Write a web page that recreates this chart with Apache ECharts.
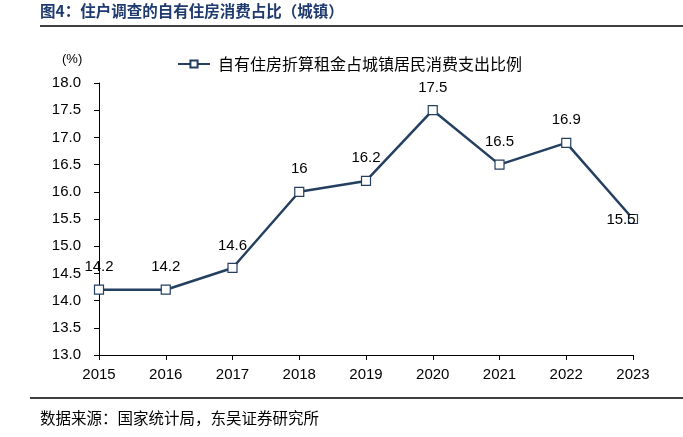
<!DOCTYPE html>
<html><head><meta charset="utf-8">
<script src="https://cdn.jsdelivr.net/npm/echarts@6/dist/echarts.min.js"></script>
<style>html,body{margin:0;padding:0;background:#fff}#c{width:683px;height:437px}</style>
</head><body><div id="c"></div>
<script>
var categories = ['2015','2016','2017','2018','2019','2020','2021','2022','2023'];
var values = [14.2, 14.2, 14.6, 16, 16.2, 17.5, 16.5, 16.9, 15.5];
var seriesName = '自有住房折算租金占城镇居民消费支出比例';
var titleText = '图4：住户调查的自有住房消费占比（城镇）';
var sourceText = '数据来源：国家统计局，东吴证券研究所';

var chart = echarts.init(document.getElementById('c'));
var navy = '#243f60';
var cjk = '"Noto Sans CJK SC", sans-serif';
var seriesData = values.map(function(v, i){
  var d = {value: v};
  if (i === values.length - 1) {
    d.label = {position: 'inside', offset: [-12, 1]};
  }
  return d;
});
chart.setOption({
  animation: false,
  graphic: [
    {type:'text', left: 40, top: 3, style:{text: titleText, font: 'bold 15.5px "Noto Sans CJK SC"', fill:'#1f3a6e'}},
    {type:'line', shape:{x1:40, y1:26, x2:683, y2:26}, style:{stroke:'#000', lineWidth:1.5}},
    {type:'text', left: 62, top: 53, style:{text:'(%)', font:'13px "Liberation Sans"', fill:'#000'}},
    {type:'line', shape:{x1:30, y1:398, x2:683, y2:398}, style:{stroke:'#000', lineWidth:1.5}},
    {type:'text', left: 40, top: 410, style:{text: sourceText, font: '15.5px "Noto Sans CJK SC"', fill:'#000'}}
  ],
  legend: {
    top: 51, left: 172,
    itemWidth: 32, itemHeight: 9, itemGap: 10,
    data: [seriesName],
    textStyle: {fontFamily: cjk, fontSize: 16, color: '#000', padding: [0,0,0,3]}
  },
  grid: {left: 99, right: 50, top: 83, bottom: 82},
  xAxis: {
    type: 'category', data: categories, boundaryGap: false,
    axisLine: {lineStyle: {color: '#000'}},
    axisTick: {show: true, alignWithLabel: true, length: 5, inside: false, lineStyle:{color:'#000'}},
    axisLabel: {color: '#000', fontSize: 15, fontFamily: 'Liberation Sans', margin: 12}
  },
  yAxis: {
    type: 'value', min: 13, max: 18, interval: 0.5,
    splitLine: {show: false},
    axisLine: {show: true, lineStyle: {color: '#000'}},
    axisTick: {show: true, length: 5, lineStyle:{color:'#000'}},
    axisLabel: {color: '#000', fontSize: 15, fontFamily: 'Liberation Sans', margin: 18,
      formatter: function(v){ return v.toFixed(1); }}
  },
  series: [{
    name: seriesName, type: 'line', data: seriesData,
    symbol: 'rect', symbolSize: 9,
    itemStyle: {color: '#fff', borderColor: navy, borderWidth: 1.2},
    lineStyle: {color: navy, width: 2.5},
    label: {show: true, position: 'top', distance: 10, color: '#000', fontSize: 15, fontFamily: 'Liberation Sans',
      formatter: function(p){ return String(p.value); }},
    z: 3
  }]
});
</script></body></html>
